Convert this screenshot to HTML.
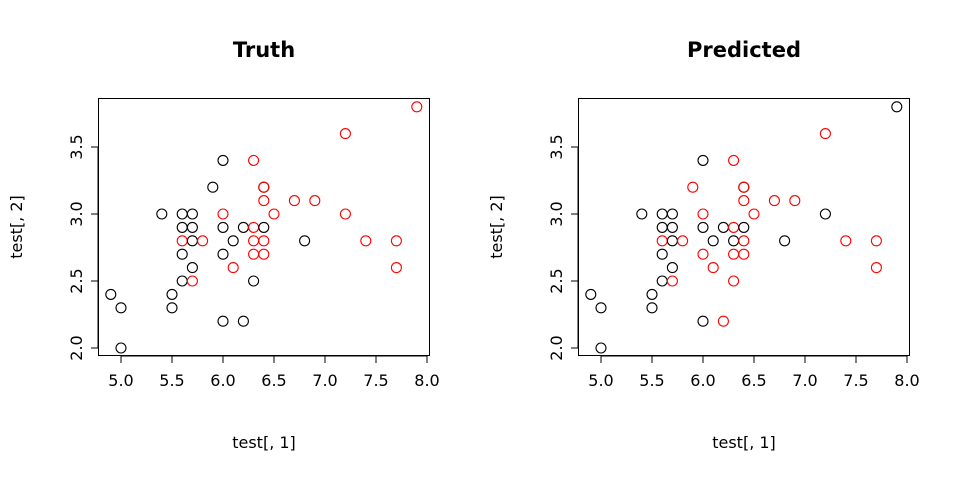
<!DOCTYPE html>
<html><head><meta charset="utf-8"><style>
body{margin:0;background:#fff;}
svg text{font-family:"DejaVu Sans","Liberation Sans",sans-serif;}
</style></head><body>
<svg id="c" width="960" height="480"></svg>
<script>
const xs=[7.9,7.2,6.0,6.3,5.9,6.4,6.4,6.4,6.7,6.9,5.4,5.6,5.7,6.0,6.5,7.2,5.6,5.7,6.0,6.2,6.3,6.4,5.6,5.7,5.8,6.1,6.3,6.4,6.8,7.4,7.7,5.6,6.0,6.3,6.4,5.7,6.1,7.7,5.6,5.7,6.3,4.9,5.5,5.0,5.5,6.0,6.2,5.0];
const ys=[3.8,3.6,3.4,3.4,3.2,3.2,3.2,3.1,3.1,3.1,3.0,3.0,3.0,3.0,3.0,3.0,2.9,2.9,2.9,2.9,2.9,2.9,2.8,2.8,2.8,2.8,2.8,2.8,2.8,2.8,2.8,2.7,2.7,2.7,2.7,2.6,2.6,2.6,2.5,2.5,2.5,2.4,2.4,2.3,2.3,2.2,2.2,2.0];
const truthCol=["r","r","k","r","k","k","r","r","r","r","k","k","k","r","r","r","k","k","k","k","r","k","r","k","r","k","r","r","k","r","r","k","k","r","r","k","r","r","k","r","k","k","k","k","k","k","k","k"];
const predCol=["k","r","k","r","r","k","r","r","r","r","k","k","k","r","r","k","k","k","k","k","r","k","r","k","r","k","k","r","k","r","r","k","r","r","r","k","r","r","k","r","r","k","k","k","k","k","r","k"];
const xTicks=["5.0","5.5","6.0","6.5","7.0","7.5","8.0"];
const yTicks=["2.0","2.5","3.0","3.5"];
const titles=["Truth","Predicted"];
const NS="http://www.w3.org/2000/svg";
const svg=document.getElementById('c');
function mk(t,a,p){const e=document.createElementNS(NS,t);for(const k in a)e.setAttribute(k,a[k]);(p||svg).appendChild(e);return e;}
[truthCol,predCol].forEach((cols,pi)=>{
  const off=pi*480;
  const X=v=>off+121+(v-5)*102;
  const Y=v=>348-(v-2)*134;
  const g=mk('g',{});
  
  
  const t=mk('text',{x:off+264,y:57,'text-anchor':'middle','font-size':21,'font-weight':'bold'},g);t.textContent=titles[pi];
  
  
  const box=mk('rect',{x:off+98.5,y:98.5,width:331,height:257,fill:'none',stroke:'#000'},g);
  
  
  xTicks.forEach(s=>{const v=+s,x=X(v);mk('line',{x1:x,x2:x,y1:356,y2:363,stroke:'#000'},g);
    const tx=mk('text',{x:x,y:386,'text-anchor':'middle','font-size':16},g);tx.textContent=s;
    
    });
  mk('line',{x1:X(5),x2:X(8),y1:356,y2:356,stroke:'#000'},g);
  yTicks.forEach(s=>{const v=+s,y=Y(v);mk('line',{x1:off+91,x2:off+98,y1:y,y2:y,stroke:'#000'},g);
    const tx=mk('text',{x:off+82,y:y,'text-anchor':'middle','font-size':16,transform:`rotate(-90 ${off+82} ${y})`},g);tx.textContent=s;
    
    });
  mk('line',{x1:off+98,x2:off+98,y1:Y(2),y2:Y(3.5),stroke:'#000'},g);
  const xl=mk('text',{x:off+264,y:448,'text-anchor':'middle','font-size':16},g);xl.textContent='test[, 1]';
  
  
  const yl=mk('text',{x:off+22,y:227,'text-anchor':'middle','font-size':16,transform:`rotate(-90 ${off+22} 227)`},g);yl.textContent='test[, 2]';
  
  
  xs.forEach((xv,i)=>{const c=mk('circle',{cx:X(xv),cy:Y(ys[i]),r:5,fill:'none',stroke:cols[i]==='r'?'#ff0000':'#000','stroke-width':1.1},g);
    
    });
});
</script>
</body></html>
